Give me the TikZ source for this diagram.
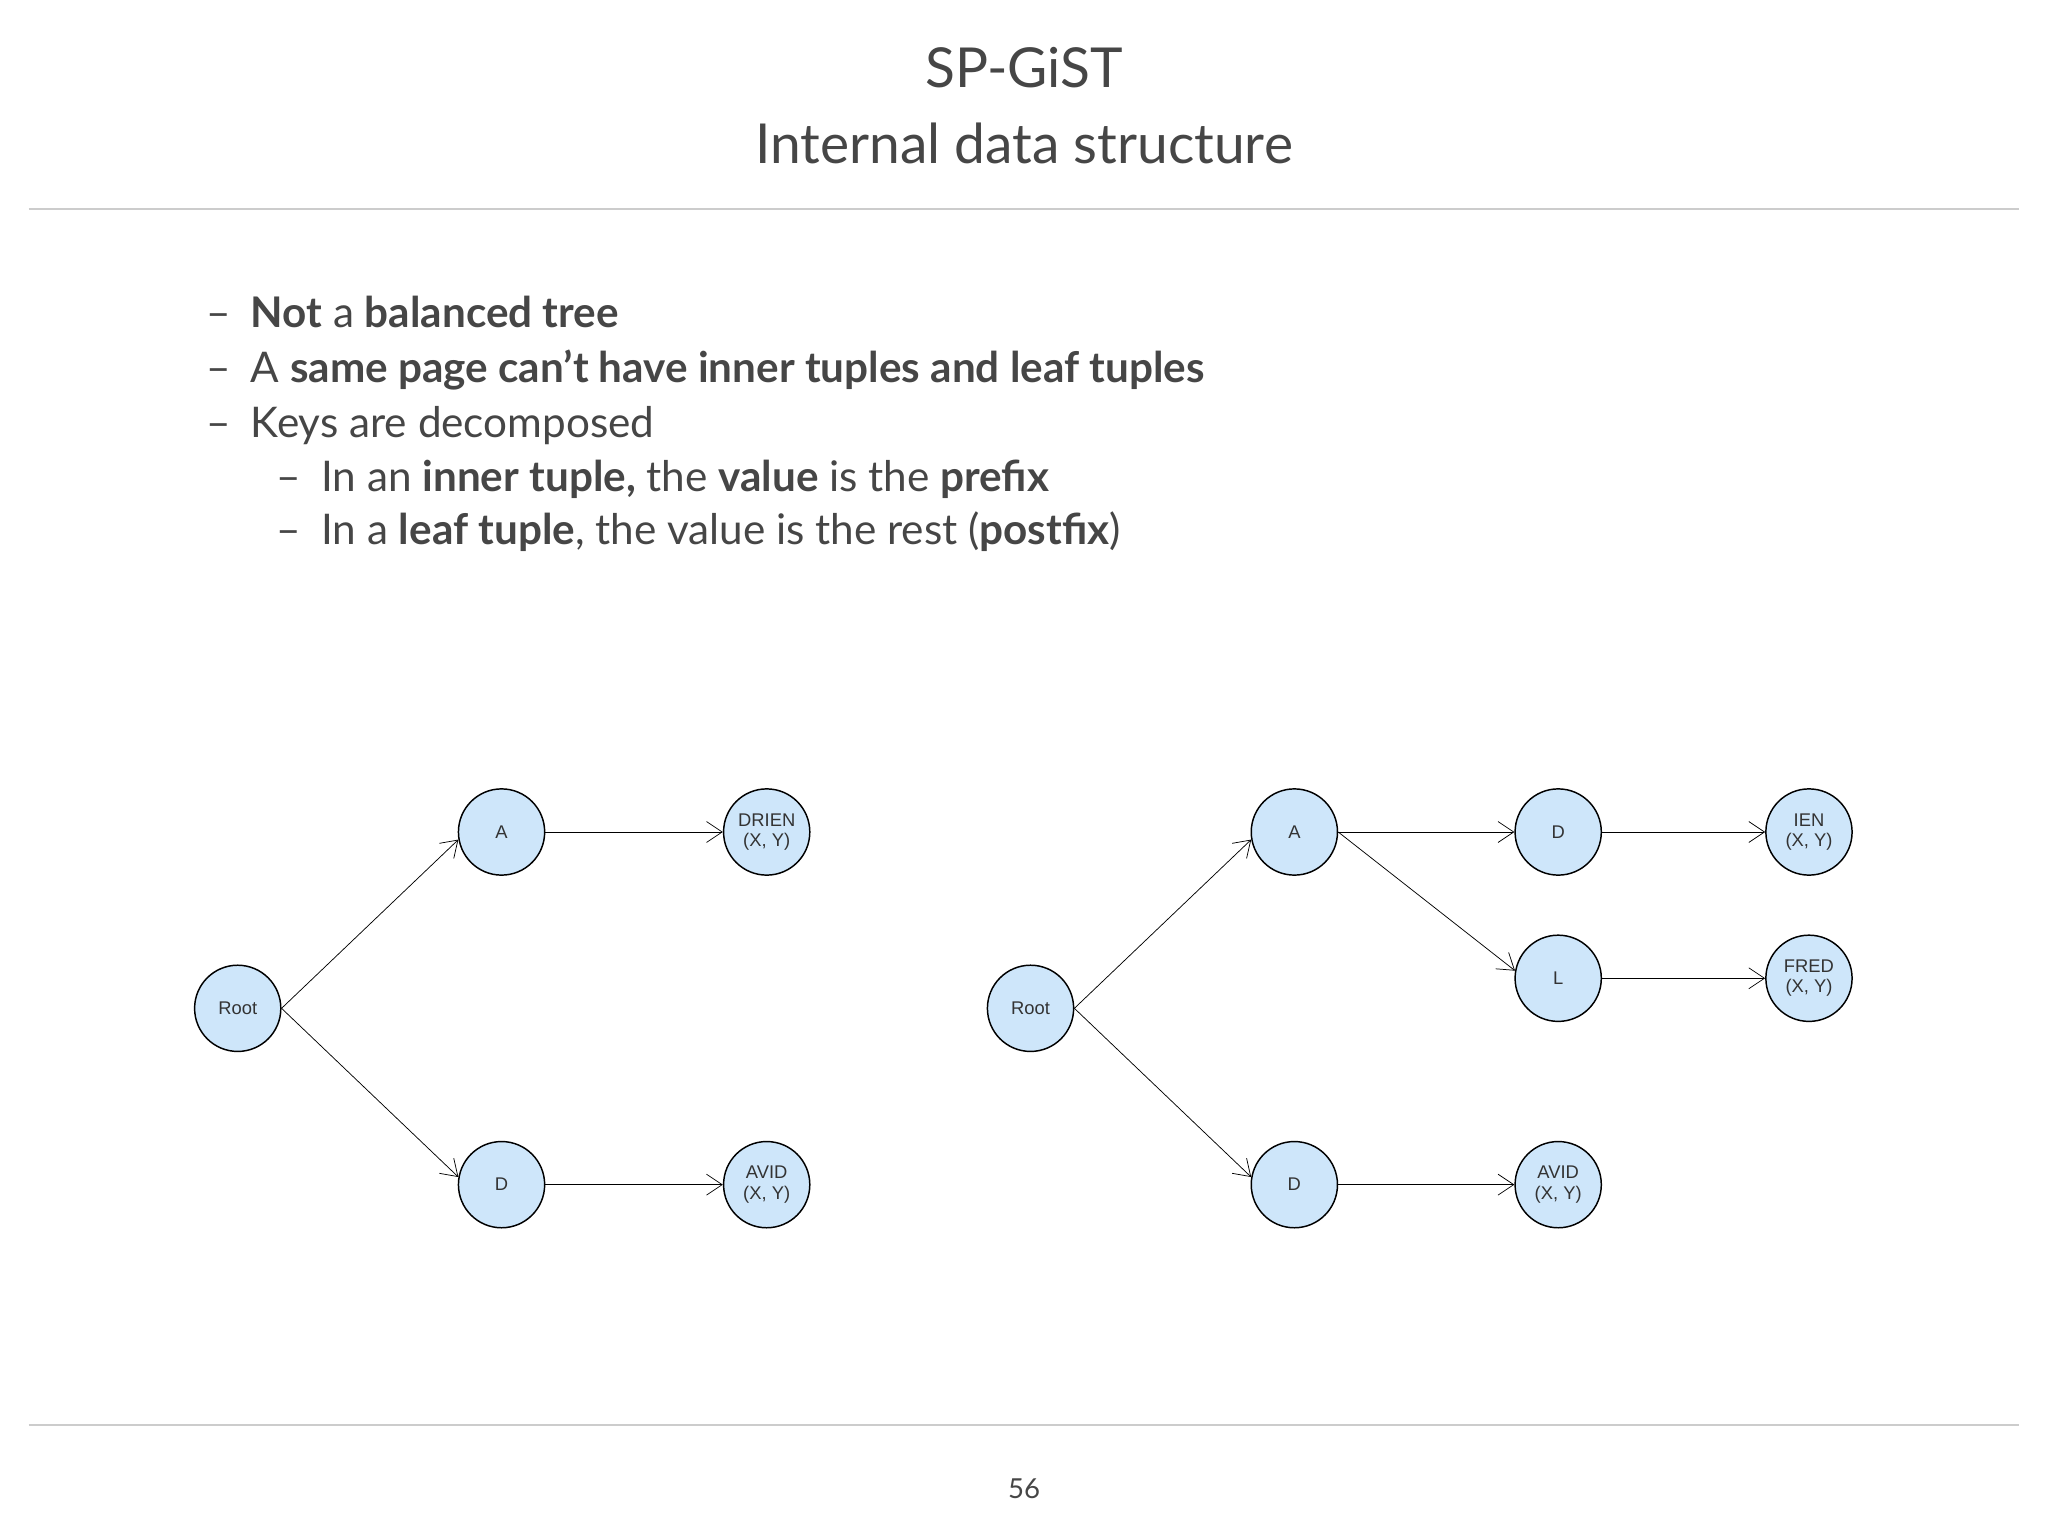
\documentclass[tikz,border=0pt]{standalone}
\usepackage{fontspec}
\setmainfont{Lato}
\newfontfamily\nodefont{Liberation Sans}
\usetikzlibrary{arrows.meta}
\definecolor{txt}{RGB}{70,70,70}
\definecolor{nfill}{RGB}{206,230,250}
\tikzset{
 tn/.style={circle,draw=black,thick,fill=nfill,minimum size=16.5mm,inner sep=0pt,align=center,font=\nodefont\fontsize{10}{11}\selectfont,text=black!80},
 ar/.style={-{Straight Barb[length=3mm,width=4mm]},thin},
 bl/.style={anchor=base west,text=txt,font=\fontsize{23}{27}\selectfont},
}
\begin{document}
\begin{tikzpicture}[x=0.025cm,y=-0.025cm]
\useasboundingbox (0,0) rectangle (1568,1176);
\draw[black!20,line width=1.2pt] (22,160) -- (1546,160);
\draw[black!20,line width=1.2pt] (22,1091) -- (1546,1091);
\node[text=txt,font=\fontsize{30}{34}\selectfont] (t1) at (784,52) {SP-GiST};
\node[text=txt,font=\fontsize{30}{34}\selectfont] (t2) at (784,110) {Internal data structure};
\node[text=txt,font=\fontsize{15}{18}\selectfont] (pg) at (784,1140) {56};
\node[bl] (d1) at (153,251) {–}; \node[bl] (b1) at (187,251) {\textbf{Not} a \textbf{balanced tree}};
\node[bl] (d2) at (153,293) {–}; \node[bl] (b2) at (187,293) {A \textbf{same page can’t have inner tuples and leaf tuples}};
\node[bl] (d3) at (153,335) {–}; \node[bl] (b3) at (187,335) {Keys are decomposed};
\node[bl] (d4) at (207,376) {–}; \node[bl] (b4) at (241,376) {In an \textbf{inner tuple,} the \textbf{value} is the \textbf{prefix}};
\node[bl] (d5) at (207,417) {–}; \node[bl] (b5) at (241,417) {In a \textbf{leaf tuple}, the value is the rest (\textbf{postfix})};
% left tree
\node[tn] (r1) at (182,772) {Root};
\node[tn] (a1) at (384,637) {A};
\node[tn] (dd1) at (384,907) {D};
\node[tn] (dr1) at (587,637) {DRIEN\\(X, Y)};
\node[tn] (av1) at (587,907) {AVID\\(X, Y)};
\draw[ar] (r1.east) -- (a1.190);
\draw[ar] (r1.east) -- (dd1.170);
\draw[ar] (a1) -- (dr1);
\draw[ar] (dd1) -- (av1);
% right tree
\node[tn] (r2) at (789,772) {Root};
\node[tn] (a2) at (991,637) {A};
\node[tn] (dd2) at (991,907) {D};
\node[tn] (d22) at (1193,637) {D};
\node[tn] (l2) at (1193,749) {L};
\node[tn] (av2) at (1193,907) {AVID\\(X, Y)};
\node[tn] (ie2) at (1385,637) {IEN\\(X, Y)};
\node[tn] (fr2) at (1385,749) {FRED\\(X, Y)};
\draw[ar] (r2.east) -- (a2.190);
\draw[ar] (r2.east) -- (dd2.170);
\draw[ar] (a2) -- (d22);
\draw[ar] (a2.east) -- (l2.170);
\draw[ar] (dd2) -- (av2);
\draw[ar] (d22) -- (ie2);
\draw[ar] (l2) -- (fr2);
\end{tikzpicture}
\end{document}
